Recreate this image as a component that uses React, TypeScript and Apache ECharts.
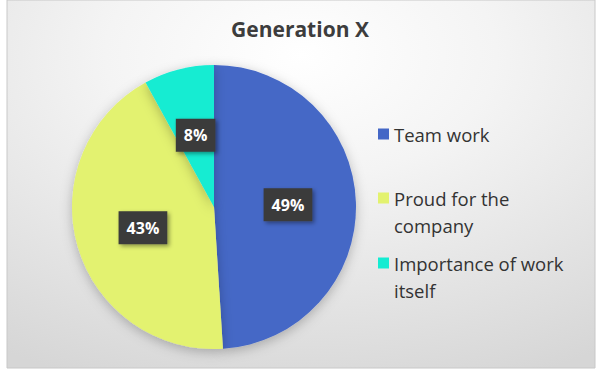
import React, { useEffect, useRef } from "react";
import * as echarts from "echarts";

const categories = ["Team work", "Proud for the company", "Importance of work itself"];
const legendLabels = ["Team work", "\nProud for the\ncompany", "\nImportance of work\nitself"];
const values = [49, 43, 8];
const colors = ["#4467C6", "#E3F26F", "#14ECD2"];

export default function App() {
  const ref = useRef<HTMLDivElement>(null);
  useEffect(() => {
    if (!ref.current) return;
    const chart = echarts.init(ref.current, null, { renderer: "svg" });
    const legendTops = [120.5, 157.5, 222.5];
    const legends = categories.map((c, i) => ({
      data: [c],
      orient: "vertical" as const,
      left: 378,
      top: legendTops[i],
      padding: 0,
      itemWidth: 11,
      itemHeight: 11,
      icon: "rect",
      formatter: () => legendLabels[i],
      textStyle: {
        fontFamily: "Open Sans",
        fontSize: 18.5,
        color: "#333333",
        lineHeight: 27,
      },
      selectedMode: false,
    }));
    chart.setOption({
      animation: false,
      backgroundColor: "#ffffff",
      title: {
        text: "Generation X",
        left: "center",
        top: 13,
        textStyle: {
          fontFamily: "Open Sans",
          fontWeight: "bold",
          fontSize: 21,
          color: "#3d3d3d",
        },
      },
      graphic: [
        {
          type: "rect",
          z: -10,
          silent: true,
          shape: { x: 7, y: 0, width: 588, height: 368 },
          style: {
            fill: new echarts.graphic.RadialGradient(0.5, 0.15, 0.95, [
              { offset: 0, color: "#ffffff" },
              { offset: 0.35, color: "#f4f4f4" },
              { offset: 1, color: "#d6d6d6" },
            ]),
            stroke: "#c8c8c8",
            lineWidth: 1,
          },
        },
      ],
      legend: legends,
      series: [
        {
          type: "pie",
          center: [214, 207],
          radius: 142,
          startAngle: 90,
          clockwise: true,
          itemStyle: {
            shadowBlur: 12,
            shadowColor: "rgba(0,0,0,0.25)",
            shadowOffsetY: 3,
          },
          label: {
            show: true,
            position: "inside",
            formatter: "{c}%",
            color: "#ffffff",
            fontFamily: "Open Sans",
            fontWeight: "bold",
            fontSize: 16,
            backgroundColor: "#3a3a3a",
            padding: [9, 8, 8, 8],
            shadowBlur: 4,
            shadowColor: "rgba(0,0,0,0.4)",
            shadowOffsetX: 2,
            shadowOffsetY: 2,
          },
          labelLine: { show: false },
          emphasis: { disabled: true },
          data: categories.map((c, i) => ({
            name: c,
            value: values[i],
            itemStyle: { color: colors[i] },
          })),
        },
      ],
    });
    return () => chart.dispose();
  }, []);
  return (
    <div
      ref={ref}
      style={{ position: "fixed", left: 0, top: 0, width: 600, height: 371 }}
    />
  );
}
